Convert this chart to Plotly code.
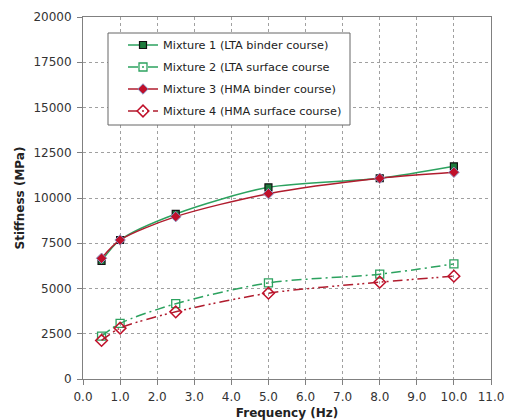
import plotly.graph_objects as go

freq = [0.5, 1.0, 2.5, 5.0, 8.0, 10.0]
mix1 = [6520, 7680, 9120, 10590, 11090, 11750]
mix2 = [2370, 3070, 4160, 5310, 5790, 6360]
mix3 = [6670, 7680, 8970, 10240, 11090, 11420]
mix4 = [2130, 2810, 3710, 4740, 5350, 5680]
names = ["Mixture 1 (LTA binder course)", "Mixture 2 (LTA surface course",
         "Mixture 3 (HMA binder course)", "Mixture 4 (HMA surface course)"]
x_ticks = [0, 1, 2, 3, 4, 5, 6, 7, 8, 9, 10, 11]
y_ticks = [0, 2500, 5000, 7500, 10000, 12500, 15000, 17500, 20000]

green = "#2ca25f"
red = "#b01c2e"

fig = go.Figure()
fig.add_trace(go.Scatter(x=freq, y=mix1, name=names[0], mode="lines+markers", legendgroup="g1",
                         line=dict(color=green, width=1.5, shape="spline", smoothing=0.8),
                         marker=dict(symbol="square", size=7, color="#1e7a3c",
                                     line=dict(color="#111111", width=1.2))))
fig.add_trace(go.Scatter(x=freq, y=mix2, name=names[1], mode="lines+markers", legendgroup="g2",
                         line=dict(color=green, width=1.5, shape="spline", smoothing=0.8,
                                   dash="10px,4px,2px,4px"),
                         marker=dict(symbol="square-open", size=8, color=green,
                                     line=dict(width=1.3))))
fig.add_trace(go.Scatter(x=freq, y=mix3, name=names[2], mode="lines+markers", legendgroup="g3",
                         line=dict(color=red, width=1.5, shape="spline", smoothing=0.8),
                         marker=dict(symbol="diamond", size=8, color="#c0102a",
                                     line=dict(color="#8a8fc0", width=1))))
fig.add_trace(go.Scatter(x=freq, y=mix4, name=names[3], mode="lines+markers", legendgroup="g4",
                         line=dict(color=red, width=1.5, shape="spline", smoothing=0.8,
                                   dash="10px,4px,2px,3px,2px,4px"),
                         marker=dict(symbol="diamond-open", size=9, color="#c0102a",
                                     line=dict(width=1.5))))

axis_common = dict(showline=True, linecolor="#808080", linewidth=1, mirror=True,
                   showgrid=True, gridcolor="#a0a0a0", griddash="3px,3px", gridwidth=1,
                   ticks="outside", ticklen=5, tickcolor="#808080", zeroline=False,
                   tickfont=dict(family="DejaVu Sans", size=12, color="#333333"))

# plot area in pixels: x 83..491, y 17..379
def px_x(p):
    return (p - 83) / 408.0

def px_y(p):
    return (379 - p) / 362.0

fig.update_layout(
    width=507, height=420,
    margin=dict(l=83, r=16, t=17, b=41),
    paper_bgcolor="white", plot_bgcolor="white",
    font=dict(family="DejaVu Sans", size=12, color="#222222"),
    xaxis=dict(range=[0, 11], tickvals=x_ticks,
               ticktext=[f"{v:.1f}" for v in x_ticks],
               title=dict(text="<b>Frequency (Hz)</b>", font=dict(size=12), standoff=13),
               automargin=False, ticklabelstandoff=2,
               **axis_common),
    yaxis=dict(range=[0, 20000], tickvals=y_ticks,
               ticktext=[str(v) for v in y_ticks],
               title=dict(text="<b>Stiffness (MPa)</b>", font=dict(size=12), standoff=6),
               automargin=False, ticklabelstandoff=3,
               **axis_common),
    legend=dict(x=px_x(123), y=px_y(30.5), xanchor="left", yanchor="top",
                bgcolor="rgba(0,0,0,0)", borderwidth=0,
                font=dict(family="DejaVu Sans", size=11.3, color="#222222"),
                tracegroupgap=3, itemwidth=30),
    shapes=[dict(type="rect", xref="paper", yref="paper",
                 x0=px_x(108), x1=px_x(350), y0=px_y(125), y1=px_y(33),
                 line=dict(color="#666666", width=1), fillcolor="white", layer="above")],
    showlegend=True,
)

fig.write_html("out.html")
